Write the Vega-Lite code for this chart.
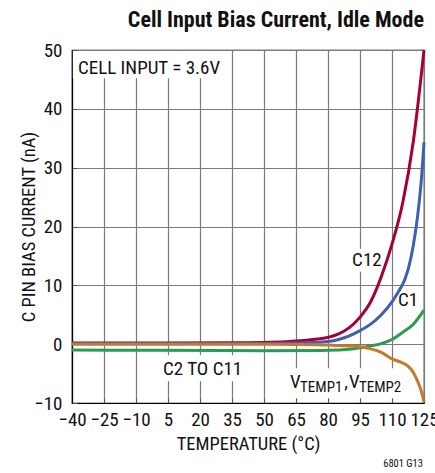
{
  "$schema": "https://vega.github.io/schema/vega-lite/v6.json",
  "autosize": "none",
  "width": 352,
  "height": 353,
  "padding": {"left": 72, "top": 50, "right": 11, "bottom": 70},
  "config": {
    "font": "Roboto Condensed, DejaVu Sans Condensed, Liberation Sans",
    "view": {"stroke": "#000", "strokeWidth": 1.2},
    "axis": {
      "labelFont": "Roboto Condensed, DejaVu Sans Condensed, Liberation Sans",
      "titleFont": "Roboto Condensed, DejaVu Sans Condensed, Liberation Sans",
      "labelFontSize": 19,
      "titleFontSize": 18.5,
      "labelColor": "#111",
      "titleColor": "#111",
      "titleFontWeight": "normal",
      "gridColor": "#7a7a7a",
      "gridWidth": 1.2,
      "gridOpacity": 1,
      "domainColor": "#000",
      "domainWidth": 1.2,
      "tickColor": "#555",
      "tickSize": -5,
      "tickWidth": 1
    }
  },
  "title": {
    "text": "Cell Input Bias Current, Idle Mode",
    "font": "Roboto Condensed, DejaVu Sans Condensed, Liberation Sans",
    "fontSize": 22,
    "fontWeight": "bold",
    "color": "#111",
    "anchor": "end",
    "frame": "group",
    "offset": 9
  },
  "datasets": {
    "curves": [
      {"t": -40, "v": 0.2, "s": "C12"}, {"t": 0, "v": 0.2, "s": "C12"}, {"t": 35, "v": 0.22, "s": "C12"}, {"t": 50, "v": 0.3, "s": "C12"}, {"t": 60, "v": 0.42, "s": "C12"}, {"t": 65, "v": 0.52, "s": "C12"}, {"t": 70, "v": 0.68, "s": "C12"}, {"t": 75, "v": 0.88, "s": "C12"}, {"t": 80, "v": 1.15, "s": "C12"}, {"t": 85, "v": 1.75, "s": "C12"}, {"t": 90, "v": 2.8, "s": "C12"}, {"t": 95, "v": 4.6, "s": "C12"}, {"t": 100, "v": 7.2, "s": "C12"}, {"t": 103, "v": 9.6, "s": "C12"}, {"t": 105, "v": 11.5, "s": "C12"}, {"t": 110, "v": 17.0, "s": "C12"}, {"t": 115, "v": 24.0, "s": "C12"}, {"t": 120, "v": 34.5, "s": "C12"}, {"t": 125, "v": 50.0, "s": "C12"},
      {"t": -40, "v": 0.1, "s": "C1"}, {"t": 0, "v": 0.1, "s": "C1"}, {"t": 50, "v": 0.12, "s": "C1"}, {"t": 65, "v": 0.2, "s": "C1"}, {"t": 75, "v": 0.32, "s": "C1"}, {"t": 80, "v": 0.45, "s": "C1"}, {"t": 85, "v": 0.8, "s": "C1"}, {"t": 90, "v": 1.4, "s": "C1"}, {"t": 95, "v": 2.3, "s": "C1"}, {"t": 100, "v": 3.4, "s": "C1"}, {"t": 105, "v": 5.0, "s": "C1"}, {"t": 110, "v": 7.2, "s": "C1"}, {"t": 113, "v": 8.9, "s": "C1"}, {"t": 116, "v": 11.0, "s": "C1"}, {"t": 118, "v": 13.3, "s": "C1"}, {"t": 120, "v": 16.8, "s": "C1"}, {"t": 122, "v": 21.8, "s": "C1"}, {"t": 124, "v": 29.0, "s": "C1"}, {"t": 125, "v": 34.3, "s": "C1"},
      {"t": -40, "v": -1.0, "s": "C2 TO C11"}, {"t": 0, "v": -1.05, "s": "C2 TO C11"}, {"t": 50, "v": -1.1, "s": "C2 TO C11"}, {"t": 80, "v": -1.05, "s": "C2 TO C11"}, {"t": 90, "v": -0.85, "s": "C2 TO C11"}, {"t": 95, "v": -0.6, "s": "C2 TO C11"}, {"t": 100, "v": -0.3, "s": "C2 TO C11"}, {"t": 105, "v": 0.1, "s": "C2 TO C11"}, {"t": 110, "v": 0.8, "s": "C2 TO C11"}, {"t": 115, "v": 2.0, "s": "C2 TO C11"}, {"t": 120, "v": 3.4, "s": "C2 TO C11"}, {"t": 125, "v": 5.8, "s": "C2 TO C11"},
      {"t": -40, "v": 0.0, "s": "VTEMP"}, {"t": 50, "v": 0.0, "s": "VTEMP"}, {"t": 65, "v": -0.05, "s": "VTEMP"}, {"t": 80, "v": -0.15, "s": "VTEMP"}, {"t": 90, "v": -0.3, "s": "VTEMP"}, {"t": 95, "v": -0.45, "s": "VTEMP"}, {"t": 100, "v": -0.8, "s": "VTEMP"}, {"t": 105, "v": -1.4, "s": "VTEMP"}, {"t": 110, "v": -2.5, "s": "VTEMP"}, {"t": 115, "v": -3.2, "s": "VTEMP"}, {"t": 118, "v": -3.9, "s": "VTEMP"}, {"t": 120, "v": -4.8, "s": "VTEMP"}, {"t": 122, "v": -6.3, "s": "VTEMP"}, {"t": 124, "v": -8.3, "s": "VTEMP"}, {"t": 125, "v": -9.8, "s": "VTEMP"}
    ],
    "boxes": [
      {"x": -39.6, "x2": 33.5, "y": 45.2, "y2": 49.85},
      {"x": 89.4, "x2": 105.3, "y": 12.3, "y2": 16.2},
      {"x": 0.3, "x2": 41.1, "y": -6.3, "y2": -1.9},
      {"x": 61.0, "x2": 118.0, "y": -9.2, "y2": -4.1}
    ],
    "labels": [
      {"x": -37.2, "y": 46.0, "text": "CELL INPUT = 3.6V"},
      {"x": 91.3, "y": 13.3, "text": "C12"},
      {"x": 112.8, "y": 6.5, "text": "C1"},
      {"x": 2.7, "y": -5.27, "text": "C2 TO C11"},
      {"x": 62.2, "y": -7.48, "text": "V"},
      {"x": 87.6, "y": -7.48, "text": ","},
      {"x": 89.8, "y": -7.48, "text": "V"}
    ],
    "subs": [
      {"x": 66.9, "y": -8.16, "text": "TEMP1"},
      {"x": 94.5, "y": -8.16, "text": "TEMP2"}
    ],
    "note": [
      {"x": 124.5, "y": -20.9, "text": "6801 G13"}
    ]
  },
  "encoding": {
    "x": {
      "type": "quantitative",
      "scale": {"domain": [-40, 125], "nice": false, "zero": false},
      "axis": {
        "title": "TEMPERATURE (°C)",
        "values": [-40, -25, -10, 5, 20, 35, 50, 65, 80, 95, 110, 125],
        "labelExpr": "replace(format(datum.value, 'd'), '-', '–')",
        "labelPadding": 12,
        "titlePadding": 5,
        "labelFlush": false,
        "labelOverlap": false
      }
    },
    "y": {
      "type": "quantitative",
      "scale": {"domain": [-10, 50], "nice": false, "zero": false},
      "axis": {
        "title": "C PIN BIAS CURRENT (nA)",
        "values": [-10, 0, 10, 20, 30, 40, 50],
        "labelExpr": "replace(format(datum.value, 'd'), '-', '–')",
        "labelPadding": 15,
        "titlePadding": -5,
        "labelFlush": false
      }
    }
  },
  "layer": [
    {
      "data": {"name": "boxes"},
      "mark": {"type": "rect", "fill": "#fff", "stroke": null},
      "encoding": {
        "x": {"field": "x", "type": "quantitative"},
        "x2": {"field": "x2"},
        "y": {"field": "y", "type": "quantitative"},
        "y2": {"field": "y2"}
      }
    },
    {
      "data": {"name": "curves"},
      "mark": {"type": "line", "strokeWidth": 3, "interpolate": "monotone"},
      "encoding": {
        "x": {"field": "t", "type": "quantitative"},
        "y": {"field": "v", "type": "quantitative"},
        "color": {
          "field": "s",
          "type": "nominal",
          "scale": {"domain": ["C2 TO C11", "VTEMP", "C1", "C12"], "range": ["#2e9a4d", "#c8782c", "#3d5fb6", "#a5003a"]},
          "legend": null
        },
        "order": {"field": "t", "type": "quantitative"}
      }
    },
    {
      "data": {"name": "labels"},
      "mark": {"type": "text", "align": "left", "baseline": "alphabetic", "fontSize": 19, "color": "#111"},
      "encoding": {
        "x": {"field": "x", "type": "quantitative"},
        "y": {"field": "y", "type": "quantitative"},
        "text": {"field": "text"}
      }
    },
    {
      "data": {"name": "subs"},
      "mark": {"type": "text", "align": "left", "baseline": "alphabetic", "fontSize": 15, "color": "#111"},
      "encoding": {
        "x": {"field": "x", "type": "quantitative"},
        "y": {"field": "y", "type": "quantitative"},
        "text": {"field": "text"}
      }
    },
    {
      "data": {"name": "note"},
      "mark": {"type": "text", "align": "right", "baseline": "alphabetic", "fontSize": 10.5, "color": "#111"},
      "encoding": {
        "x": {"field": "x", "type": "quantitative"},
        "y": {"field": "y", "type": "quantitative"},
        "text": {"field": "text"}
      }
    }
  ]
}
